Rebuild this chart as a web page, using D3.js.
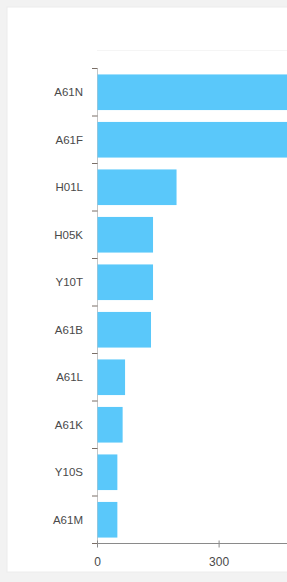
<!DOCTYPE html>
<html>
<head>
<meta charset="utf-8">
<script src="https://cdn.jsdelivr.net/npm/d3@7"></script>
<style>
  html, body { margin: 0; padding: 0; background: #f2f2f2; overflow: hidden; }
  svg { display: block; }
</style>
</head>
<body>
<svg id="chart" width="287" height="582"></svg>
<script>
const categories = ["A61N", "A61F", "H01L", "H05K", "Y10T", "A61B", "A61L", "A61K", "Y10S", "A61M"];
const values = [1150, 1100, 195, 137, 137, 132, 68, 62, 49, 49];
const xTicks = [0, 300];

const svg = d3.select("#chart");

// card
svg.append("rect")
  .attr("x", 7).attr("y", 7).attr("width", 320).attr("height", 565)
  .attr("fill", "#ffffff")
  .attr("stroke", "#ececec").attr("stroke-width", 1);

const x = d3.scaleLinear().domain([0, 1500]).range([97, 97 + 608]);
const y = d3.scaleBand().domain(categories).range([68.5, 543.5])
  .paddingInner(0.25).paddingOuter(0.125);

// faint top line
svg.append("line")
  .attr("x1", x(0)).attr("x2", 287).attr("y1", 50.5).attr("y2", 50.5)
  .attr("stroke", "#f5f5f5");

// y domain line
svg.append("line")
  .attr("x1", x(0) + 0.5).attr("x2", x(0) + 0.5)
  .attr("y1", y.range()[0]).attr("y2", y.range()[1])
  .attr("stroke", "#c4c4c4").attr("stroke-width", 1);

// bars
svg.append("g").selectAll("rect")
  .data(categories)
  .join("rect")
  .attr("x", x(0) + 0.5)
  .attr("y", d => y(d))
  .attr("width", (d, i) => x(values[i]) - x(0))
  .attr("height", y.bandwidth())
  .attr("fill", "#5ac8fa");

// y ticks at band boundaries
const step = y.step();
const boundaries = d3.range(categories.length + 1).map(i => y.range()[0] + i * step);
svg.append("g").selectAll("line")
  .data(boundaries)
  .join("line")
  .attr("x1", x(0) - 5).attr("x2", x(0) + 0.5)
  .attr("y1", d => d).attr("y2", d => d)
  .attr("stroke", "#7a6e66").attr("stroke-width", 1);

// y labels
svg.append("g").selectAll("text")
  .data(categories)
  .join("text")
  .attr("x", 83)
  .attr("y", d => y(d) + y.bandwidth() / 2)
  .attr("text-anchor", "end")
  .attr("dominant-baseline", "central")
  .attr("font-family", "Liberation Sans, Arial, sans-serif")
  .attr("font-size", 11.5)
  .attr("fill", "#4a4a4a")
  .text(d => d);

// x axis
const axisY = y.range()[1];
svg.append("line")
  .attr("x1", x(0)).attr("x2", 287)
  .attr("y1", axisY).attr("y2", axisY)
  .attr("stroke", "#8a8a8a").attr("stroke-width", 1);

const xt = svg.append("g").selectAll("g").data(xTicks).join("g")
  .attr("transform", d => `translate(${x(d) + 0.5},0)`);
xt.append("line")
  .attr("y1", axisY - 3).attr("y2", axisY + 4)
  .attr("stroke", "#8a8a8a");
xt.append("text")
  .attr("y", axisY + 18)
  .attr("text-anchor", "middle")
  .attr("dominant-baseline", "central")
  .attr("font-family", "Liberation Sans, Arial, sans-serif")
  .attr("font-size", 12)
  .attr("fill", "#4a4a4a")
  .text(d => d);
</script>
</body>
</html>
